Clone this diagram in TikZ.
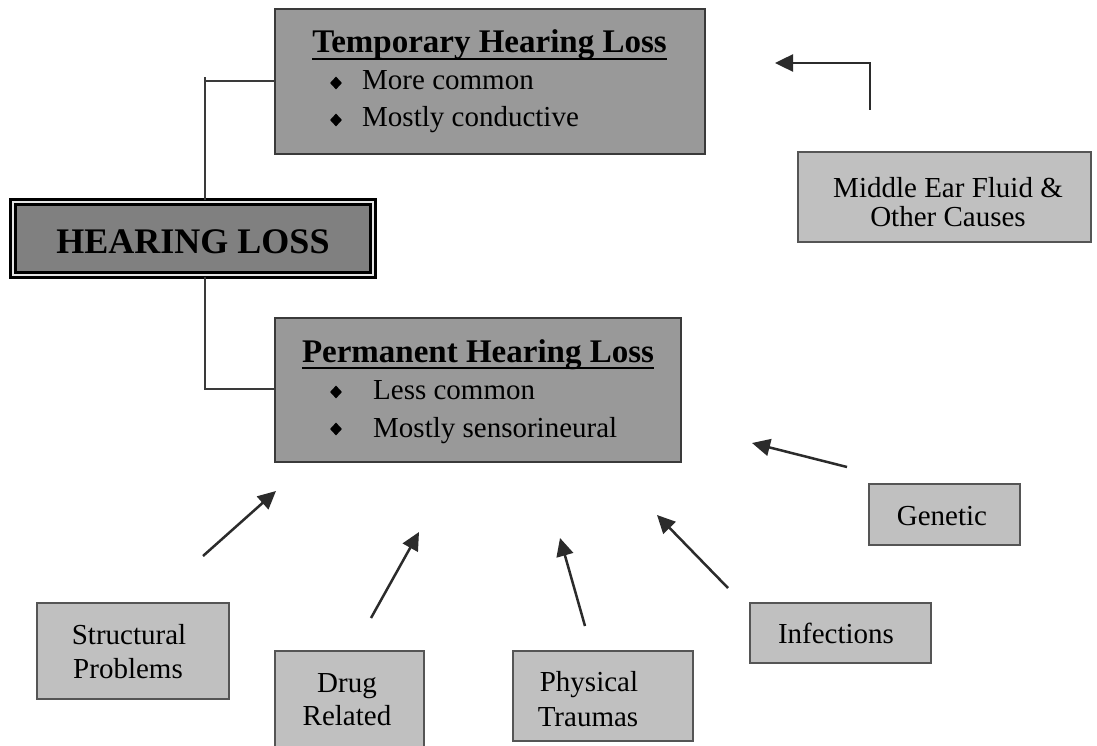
\documentclass[tikz,border=0pt]{standalone}
\usepackage{fontspec}
\setmainfont{Liberation Serif}
\usetikzlibrary{arrows.meta,shapes.geometric,calc}
\definecolor{boxgray}{HTML}{999999}
\definecolor{hlgray}{HTML}{808080}
\definecolor{lightbox}{HTML}{C0C0C0}
\definecolor{edgegray}{HTML}{3A3A3A}
\definecolor{smalledge}{HTML}{555555}
\definecolor{ink}{HTML}{2B2B2B}
\begin{document}
\begin{tikzpicture}[x=1pt,y=-1pt,
  bigbox/.style={draw=edgegray, line width=2pt, fill=boxgray, inner sep=0pt},
  smallbox/.style={draw=smalledge, line width=2pt, fill=lightbox, inner sep=0pt},
  hlbox/.style={draw=black, line width=3pt, double=white!90!black, double distance=2pt, fill=hlgray, inner sep=0pt},
  txt/.style={inner sep=0pt, anchor=base, font=\fontsize{29}{33}\selectfont},
  btxt/.style={inner sep=0pt, anchor=base west, font=\fontsize{29}{33}\selectfont},
  ttl/.style={inner sep=0pt, anchor=base, font=\bfseries\fontsize{33}{38}\selectfont},
  bul/.style={diamond, fill=black, inner sep=0pt, minimum width=12pt, minimum height=13pt},
  conn/.style={draw=edgegray, line width=2pt},
  arr/.style={draw=ink, line width=2.5pt, -{Triangle[length=18pt,width=17pt]}}
]
\useasboundingbox (0,0) rectangle (1097,746);
\fill[white] (0,0) rectangle (1097,746);

% main boxes
\node[hlbox, minimum width=360pt, minimum height=73pt] (hl) at (192.5,238.5) {};
\node[inner sep=0pt, anchor=base, font=\bfseries\fontsize{36}{40}\selectfont] (hltext) at (193,253) {HEARING LOSS};

\node[bigbox, minimum width=430pt, minimum height=145pt] (temp) at (490,81.5) {};
\node[ttl] (tempttl) at (489.5,53) {Temporary Hearing Loss};
\draw[line width=2pt] ([yshift=-6pt]tempttl.base west) -- ([yshift=-6pt]tempttl.base east);
\node[bul] (tb1) at (336,83) {};
\node[btxt] (tt1) at (362,90) {More common};
\node[bul] (tb2) at (336,120) {};
\node[btxt] (tt2) at (362,127) {Mostly conductive};

\node[bigbox, minimum width=406pt, minimum height=144pt] (perm) at (478,390) {};
\node[ttl] (permttl) at (478,362) {Permanent Hearing Loss};
\draw[line width=2pt] ([yshift=-6pt]permttl.base west) -- ([yshift=-6pt]permttl.base east);
\node[bul] (pb1) at (336,392) {};
\node[btxt] (pt1) at (373,399) {Less common};
\node[bul] (pb2) at (336,429) {};
\node[btxt] (pt2) at (373,437) {Mostly sensorineural};

% tree connectors
\coordinate (ctop) at (205,77);
\coordinate (cbot) at (205,389);
\draw[conn] (ctop |- hl.north) -- (ctop);
\draw[conn] (ctop |- temp.west) -- (temp.west);
\draw[conn] (cbot |- hl.south) -- (cbot) -- (perm.west |- cbot);

% cause boxes
\node[smallbox, minimum width=293pt, minimum height=90pt] (mid) at (944.5,197) {};
\node[txt] (mid1) at (948,197) {Middle Ear Fluid \&};
\node[txt] (mid2) at (948,226) {Other Causes};

\node[smallbox, minimum width=151pt, minimum height=61pt] (gen) at (944.5,514.5) {};
\node[txt] (gen1) at (942,525) {Genetic};

\node[smallbox, minimum width=181pt, minimum height=60pt] (inf) at (840.5,633) {};
\node[txt] (inf1) at (836,643) {Infections};

\node[smallbox, minimum width=180pt, minimum height=90pt] (phys) at (603,696) {};
\node[txt] (phys1) at (589,691) {Physical};
\node[txt] (phys2) at (588,726) {Traumas};

\node[smallbox, minimum width=149pt, minimum height=98pt] (drug) at (349.5,700) {};
\node[txt] (drug1) at (347,692) {Drug};
\node[txt] (drug2) at (347,725) {Related};

\node[smallbox, minimum width=192pt, minimum height=96pt] (struct) at (133,651) {};
\node[txt] (struct1) at (129,644) {Structural};
\node[txt] (struct2) at (128,678) {Problems};

% arrows
\coordinate (a1s) at (203,556); \coordinate (a1e) at (276,491);
\coordinate (a2s) at (371,618); \coordinate (a2e) at (419,532);
\coordinate (a3s) at (585,626); \coordinate (a3e) at (560,538);
\coordinate (a4s) at (728,588); \coordinate (a4e) at (657,515);
\coordinate (a5s) at (847,467); \coordinate (a5e) at (752,443);
\coordinate (a6s) at (870,110); \coordinate (a6m) at (870,63); \coordinate (a6e) at (775,63);
\draw[arr] (a1s) -- (a1e);
\draw[arr] (a2s) -- (a2e);
\draw[arr] (a3s) -- (a3e);
\draw[arr] (a4s) -- (a4e);
\draw[arr] (a5s) -- (a5e);
\draw[arr] (a6s) -- (a6m) -- (a6e);
\end{tikzpicture}
\end{document}
